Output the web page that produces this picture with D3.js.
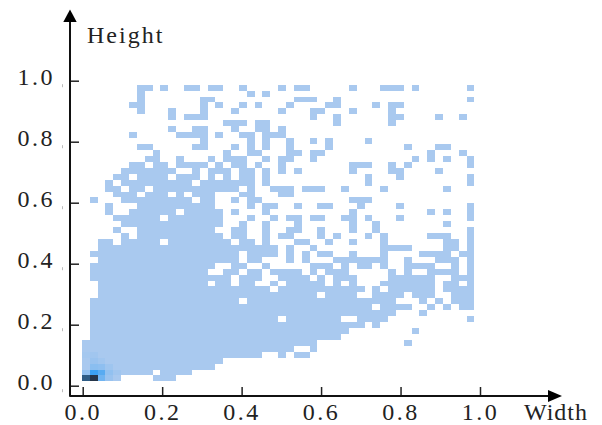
<!DOCTYPE html>
<html>
<head>
<meta charset="utf-8">
<script src="https://cdn.jsdelivr.net/npm/d3@7"></script>
<style>
	body { margin: 0; background: #fff; }
	text { font-family: "Liberation Serif", serif; fill: #222; }
</style>
</head>
<body>
<div id="graph"></div>
<script>
let width = 602;
let height = 425;

// Tick values on both axes:
let xTicks = [0, 0.2, 0.4, 0.6, 0.8, 1.0];
let yTicks = [0, 0.2, 0.4, 0.6, 0.8, 1.0];
let numBins = 50;

// Occupied bins, one line per row from the top, as column runs:
let occupiedRows = [
	"7-8 10 13-14 16-17 20 25 27-28 34 38-40 42 49",
	"7 21 23",
	"7 15-16 27-29 32 49",
	"6-7 15 17 20 22 26 31-32 37 39-40",
	"7 11 15 19 25 29-30 34 39",
	"11 13-15 29 32 39-40 45 48",
	"18-20 22-23 32 39",
	"11 14-15 19 22-23 25",
	"6 12-15 17 20-21 23-25",
	"15 21 23 26 29 31 36",
	"7-8 14-15 19 21 23 26 31 41 45-46",
	"9 18 21-22 26-27 29-30 44 48",
	"8-9 12 16 18-20 23 25-26 29 42 44 46 49",
	"6-7 9-10 12-15 17 19-20 22 25 34-36 39 41 49",
	"5-11 14 16-18 20-21 23 25 27 34 39-40 45",
	"4-5 7-10 12-14 16 18 20-21 23 36 40 49",
	"3 5-13 15-21 23 36 49",
	"3-4 6-7 9-19 21 24-26 28-30 33 38 46",
	"4-6 8-10 12 14-16 20-21 25-26",
	"1 5-13 15-16 19 21-22 34-36",
	"3 7-16 21 23-24 27 30-31 35 40 49",
	"3 6-11 13-17 19 23 34 44 46 49",
	"4-9 11-17 21 24 26-27 29-30 33-34 36 40 49",
	"5-17 20 23 27 34 37 46",
	"4 7-16 19-20 23 26-27 30 34 37 49",
	"5 7-17 19-20 23 25-26 30 32 36 38 44-46 49",
	"2-3 5-9 11-18 20-21 23 27-28 31 34 38 46-47 49",
	"2-24 26 29 38-41 46-47 49",
	"1-19 21-24 26 28 30-31 34 38 43-46 48-49",
	"2-19 21-22 26 28 32-38 41 45-47 49",
	"1-16 19-20 23 29-31 33 35-36 38 41-44 47 49",
	"1-15 18-19 21-22 24-27 29 31-33 39 41 44-47 49",
	"1-18 20-22 25-28 30 32-34 39-44 47-49",
	"2-15 17-18 20-21 24 26-30 32 34 38-44 46-47 49",
	"2-23 25-35 37 39-44 46-49",
	"2-29 31-34 37-40 42-44 47-49",
	"1-19 21-39 43 45 47-49",
	"1-36 38-41 44 46 48-49",
	"1-39 43",
	"1-24 26-32 35-38 49",
	"1-35 37",
	"1-33 42",
	"1-32",
	"0-29 41",
	"0-26 29",
	"0-22 25 27-28",
	"0-17",
	"0-16",
	"0-8 10-13",
	"0-4 9-11"
	];

// The few bins near the origin that hold more than the base count:
let denseCols =   [0,  1,   2,  3, 0, 1,  2,  3, 4, 1, 2, 3, 1, 2, 0, 1];
let denseRows =   [49, 49, 49, 49, 48, 48, 48, 48, 48, 47, 47, 47, 46, 46, 45, 45];
let denseCounts = [75, 100, 16, 5, 7, 30, 22, 7, 3, 9, 8, 4, 5, 3, 2, 3];

let padding = {
	top: 80.7,
	right: 122,
	bottom: 39.3,
	left: 82.7
	};

let xScale = d3.scaleLinear()
	.domain([0, 1])
	.range([padding.left, width - padding.right]);
let yScale = d3.scaleLinear()
	.domain([0, 1])
	.range([height - padding.bottom, padding.top]);

// Bins do not start exactly on the ticks:
let colScale = d3.scaleBand()
	.domain(d3.range(numBins))
	.range([xScale(-0.002), xScale(0.986)]);
let rowScale = d3.scaleBand()
	.domain(d3.range(numBins))
	.range([yScale(0.987), yScale(0.014)]);

let colourScale = d3.scaleLinear()
	.domain([1, 30, 100])
	.range(["#a9c9ef", "#3aa0f2", "#253448"]);

// Expand the runs into one record per bin:
let cells = [];
occupiedRows.forEach((line, row) => {
	line.split(" ").forEach(run => {
		let ends = run.split("-").map(Number);
		d3.range(ends[0], ends[ends.length - 1] + 1).forEach(col => {
			cells.push({ col: col, row: row, count: 1 });
			});
		});
	});
denseCols.forEach((col, i) => {
	let cell = cells.find(c => c.col === col && c.row === denseRows[i]);
	cell.count = denseCounts[i];
	});

let svg = d3.select("#graph")
	.append("svg")
		.attr("width", width)
		.attr("height", height)
		.style("display", "block");

// Slight softness, the original is a resampled bitmap:
svg.append("filter")
	.attr("id", "soft")
	.append("feGaussianBlur")
		.attr("stdDeviation", 0.45);

svg.append("g")
	.attr("filter", "url(#soft)")
	.attr("shape-rendering", "crispEdges")
	.selectAll("rect")
	.data(cells)
	.enter()
		.append("rect")
			.attr("x", d => colScale(d.col))
			.attr("y", d => rowScale(d.row))
			.attr("width", colScale.bandwidth())
			.attr("height", rowScale.bandwidth())
			.attr("fill", d => colourScale(d.count));

let axisX = 70;
let axisY = 396;

let xAxis = d3.axisBottom(xScale)
	.tickValues(xTicks)
	.tickSize(-9)
	.tickPadding(7)
	.tickFormat(d3.format(".1f"));
let yAxis = d3.axisLeft(yScale)
	.tickValues(yTicks)
	.tickSize(-9)
	.tickPadding(15)
	.tickFormat(d3.format(".1f"));

let xGroup = svg.append("g")
	.attr("transform", `translate(0, ${axisY})`)
	.call(xAxis);
let yGroup = svg.append("g")
	.attr("transform", `translate(${axisX}, 0)`)
	.call(yAxis);

[xGroup, yGroup].forEach(group => {
	group.select(".domain").remove();
	group.selectAll("line").attr("stroke", "#222").attr("stroke-width", 1.5);
	group.selectAll("text")
		.attr("font-size", 24)
		.attr("font-family", null)
		.attr("letter-spacing", 2.5);
	});
yGroup.selectAll("text").attr("dy", "0.16em");

// Tiny grey specks left of the y axis, they are in the original too:
yGroup.selectAll(".tick")
	.append("rect")
		.attr("x", -8)
		.attr("y", 3)
		.attr("width", 1)
		.attr("height", 3)
		.attr("fill", "#bbb");

// Axis lines with their arrow heads:
svg.append("line")
	.attr("x1", axisX).attr("x2", axisX)
	.attr("y1", 20).attr("y2", axisY + 0.75)
	.attr("stroke", "#111").attr("stroke-width", 2);
svg.append("line")
	.attr("x1", axisX).attr("x2", 550)
	.attr("y1", axisY).attr("y2", axisY)
	.attr("stroke", "#111").attr("stroke-width", 2);
svg.append("path")
	.attr("d", d3.line()([[axisX, 9.5], [axisX + 6.7, 22], [axisX - 6.7, 22]]) + "Z")
	.attr("fill", "#000");
svg.append("path")
	.attr("d", d3.line()([[562, axisY], [548, axisY - 6], [548, axisY + 6]]) + "Z")
	.attr("fill", "#000");

// Axis titles:
svg.append("text")
	.attr("x", 87)
	.attr("y", 42.5)
	.attr("font-size", 24)
	.attr("letter-spacing", 2)
	.text("Height");
svg.append("text")
	.attr("x", 524)
	.attr("y", 420)
	.attr("font-size", 24)
	.attr("letter-spacing", 1)
	.text("Width");
</script>
</body>
</html>
